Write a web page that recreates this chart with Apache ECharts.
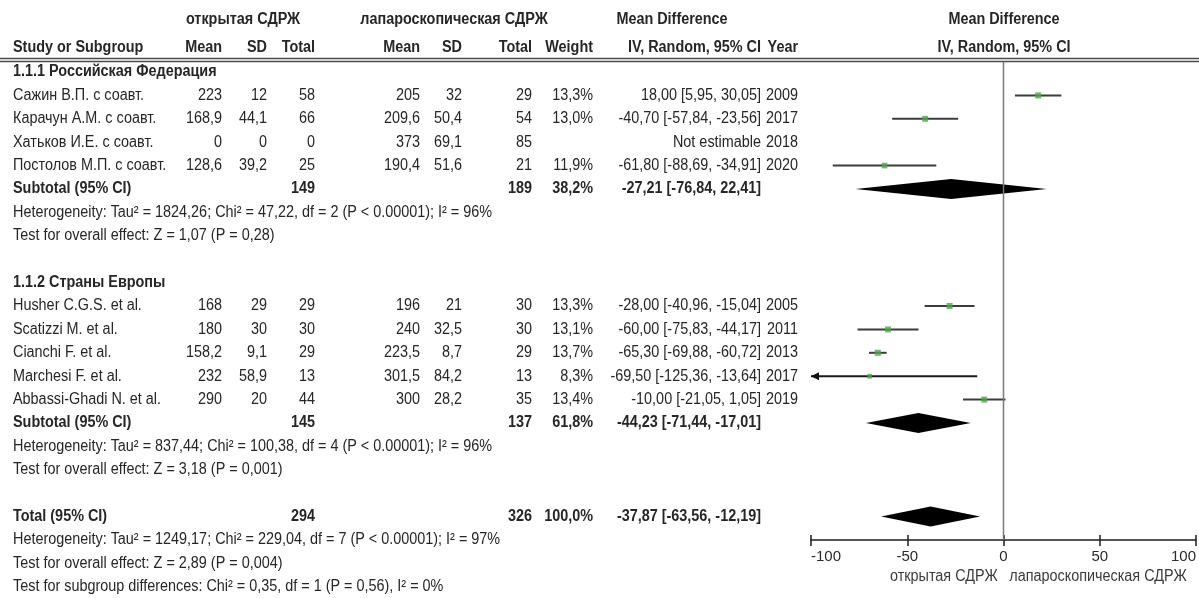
<!DOCTYPE html>
<html>
<head>
<meta charset="utf-8">
<script src="https://cdn.jsdelivr.net/npm/echarts@6/dist/echarts.min.js"></script>
<style>
  html, body { margin: 0; padding: 0; background: #fff; }
  #chart { width: 1199px; height: 598px; }
</style>
</head>
<body>
<div id="chart"></div>
<script>
// ---- Study data ----
const studyNames = ['Сажин В.П. с соавт.', 'Карачун А.М. с соавт.', 'Хатьков И.Е. с соавт.', 'Постолов М.П. с соавт.',
  'Husher C.G.S. et al.', 'Scatizzi M. et al.', 'Cianchi F. et al.', 'Marchesi F. et al.', 'Abbassi-Ghadi N. et al.'];
const studyGroup = [0, 0, 0, 0, 1, 1, 1, 1, 1];
const openMean = [223, 168.9, 0, 128.6, 168, 180, 158.2, 232, 290];
const openSD = [12, 44.1, 0, 39.2, 29, 30, 9.1, 58.9, 20];
const openTotal = [58, 66, 0, 25, 29, 30, 29, 13, 44];
const lapMean = [205, 209.6, 373, 190.4, 196, 240, 223.5, 301.5, 300];
const lapSD = [32, 50.4, 69.1, 51.6, 21, 32.5, 8.7, 84.2, 28.2];
const lapTotal = [29, 54, 85, 21, 30, 30, 29, 13, 35];
const weights = [13.3, 13.0, null, 11.9, 13.3, 13.1, 13.7, 8.3, 13.4];
const meanDiff = [18.00, -40.70, null, -61.80, -28.00, -60.00, -65.30, -69.50, -10.00];
const ciLow = [5.95, -57.84, null, -88.69, -40.96, -75.83, -69.88, -125.36, -21.05];
const ciHigh = [30.05, -23.56, null, -34.91, -15.04, -44.17, -60.72, -13.64, 1.05];
const years = [2009, 2017, 2018, 2020, 2005, 2011, 2013, 2017, 2019];

// ---- Subgroups ----
const groupNames = ['1.1.1 Российская Федерация', '1.1.2 Страны Европы'];
const groupOpenTotal = [149, 145];
const groupLapTotal = [189, 137];
const groupWeight = [38.2, 61.8];
const groupMD = [-27.21, -44.23];
const groupLow = [-76.84, -71.44];
const groupHigh = [22.41, -17.01];
const groupHeterogeneity = [
  'Heterogeneity: Tau² = 1824,26; Chi² = 47,22, df = 2 (P < 0.00001); I² = 96%',
  'Heterogeneity: Tau² = 837,44; Chi² = 100,38, df = 4 (P < 0.00001); I² = 96%'
];
const groupOverall = [
  'Test for overall effect: Z = 1,07 (P = 0,28)',
  'Test for overall effect: Z = 3,18 (P = 0,001)'
];

// ---- Overall ----
const totalOpen = 294;
const totalLap = 326;
const totalWeight = 100.0;
const totalMD = -37.87;
const totalLow = -63.56;
const totalHigh = -12.19;
const totalNotes = [
  'Heterogeneity: Tau² = 1249,17; Chi² = 229,04, df = 7 (P < 0.00001); I² = 97%',
  'Test for overall effect: Z = 2,89 (P = 0,004)',
  'Test for subgroup differences: Chi² = 0,35, df = 1 (P = 0,56), I² = 0%'
];

// ---- Axis ----
const axisMin = -100;
const axisMax = 100;
const axisStep = 50;
const favoursLeft = 'открытая СДРЖ';
const favoursRight = 'лапароскопическая СДРЖ';

// ---- Layout ----
const W = 1199, H = 598;
const ROW0 = 72, PITCH = 23.4;         // pixel y of row 0 and row pitch
const AXIS_Y = 540;                      // pixel y of the x axis line
const rowOf = y => (y - ROW0) / PITCH;
const FONT = "'Liberation Sans',Arial,sans-serif";
const FS = 16;
const SX = 0.9;                          // horizontal squeeze for a narrow typeface look
const TXT = '#262626';
const COL = { study: 13, oMean: 222, oSD: 267, oTot: 315, lMean: 420, lSD: 462, lTot: 532, weight: 593, ci: 761, year: 798 };
const PLOT_LEFT = 811, PLOT_RIGHT = 1197;

const num = v => String(v).replace('.', ',');
const f1 = v => v.toFixed(1).replace('.', ',');
const f2 = v => v.toFixed(2).replace('.', ',');
const ciText = (m, l, h) => `${f2(m)} [${f2(l)}, ${f2(h)}]`;

// ---- Build table cells and plot rows ----
const cells = [];
const cell = (x, row, text, align, bold) => cells.push({ x, row, text, align: align || 'right', bold: !!bold });

const hdr1 = rowOf(20), hdr2 = rowOf(48);
cell(243, hdr1, 'открытая СДРЖ', 'center', true);
cell(454, hdr1, 'лапароскопическая СДРЖ', 'center', true);
cell(672, hdr1, 'Mean Difference', 'center', true);
cell(1004, hdr1, 'Mean Difference', 'center', true);
cell(COL.study, hdr2, 'Study or Subgroup', 'left', true);
cell(COL.oMean, hdr2, 'Mean', 'right', true);
cell(COL.oSD, hdr2, 'SD', 'right', true);
cell(COL.oTot, hdr2, 'Total', 'right', true);
cell(COL.lMean, hdr2, 'Mean', 'right', true);
cell(COL.lSD, hdr2, 'SD', 'right', true);
cell(COL.lTot, hdr2, 'Total', 'right', true);
cell(COL.weight, hdr2, 'Weight', 'right', true);
cell(COL.ci, hdr2, 'IV, Random, 95% CI', 'right', true);
cell(COL.year, hdr2, 'Year', 'right', true);
cell(1004, hdr2, 'IV, Random, 95% CI', 'center', true);

const studyPoints = [];   // [md, row, weight]
const studyLines = [];    // [lo, hi, row]
const diamonds = [];      // [lo, md, hi, row]

let r = 0;
groupNames.forEach((g, gi) => {
  cell(COL.study, r, g, 'left', true);
  r++;
  studyNames.forEach((name, i) => {
    if (studyGroup[i] !== gi) return;
    cell(COL.study, r, name, 'left');
    cell(COL.oMean, r, num(openMean[i]));
    cell(COL.oSD, r, num(openSD[i]));
    cell(COL.oTot, r, num(openTotal[i]));
    cell(COL.lMean, r, num(lapMean[i]));
    cell(COL.lSD, r, num(lapSD[i]));
    cell(COL.lTot, r, num(lapTotal[i]));
    if (weights[i] !== null) cell(COL.weight, r, f1(weights[i]) + '%');
    cell(COL.ci, r, meanDiff[i] === null ? 'Not estimable' : ciText(meanDiff[i], ciLow[i], ciHigh[i]));
    cell(COL.year, r, String(years[i]));
    if (meanDiff[i] !== null) {
      studyPoints.push([meanDiff[i], r, weights[i]]);
      studyLines.push([ciLow[i], ciHigh[i], r]);
    }
    r++;
  });
  cell(COL.study, r, 'Subtotal (95% CI)', 'left', true);
  cell(COL.oTot, r, String(groupOpenTotal[gi]), 'right', true);
  cell(COL.lTot, r, String(groupLapTotal[gi]), 'right', true);
  cell(COL.weight, r, f1(groupWeight[gi]) + '%', 'right', true);
  cell(COL.ci, r, ciText(groupMD[gi], groupLow[gi], groupHigh[gi]), 'right', true);
  diamonds.push([groupLow[gi], groupMD[gi], groupHigh[gi], r]);
  r++;
  cell(COL.study, r++, groupHeterogeneity[gi], 'left');
  cell(COL.study, r++, groupOverall[gi], 'left');
  r++; // blank line
});
cell(COL.study, r, 'Total (95% CI)', 'left', true);
cell(COL.oTot, r, String(totalOpen), 'right', true);
cell(COL.lTot, r, String(totalLap), 'right', true);
cell(COL.weight, r, f1(totalWeight) + '%', 'right', true);
cell(COL.ci, r, ciText(totalMD, totalLow, totalHigh), 'right', true);
diamonds.push([totalLow, totalMD, totalHigh, r]);
r++;
totalNotes.forEach(t => cell(COL.study, r++, t, 'left'));

const headLine1 = rowOf(58.5), headLine2 = rowOf(61.5);
const axisRow = rowOf(AXIS_Y);
const captionRow = rowOf(577);

const chart = echarts.init(document.getElementById('chart'), null, { renderer: 'canvas' });

// narrow text element anchored at (x, y)
const textEl = (x, y, text, align, bold, color) => ({
  type: 'text',
  x, y, scaleX: SX,
  style: {
    x: 0, y: 0, text,
    font: `${bold ? 'bold ' : ''}${FS}px ${FONT}`,
    fill: color || TXT,
    align, textAlign: align,
    verticalAlign: 'middle', textVerticalAlign: 'middle'
  }
});

const axisBase = {
  gridIndex: 0, type: 'value', min: axisMin, max: axisMax, interval: axisStep, position: 'bottom',
  splitLine: { show: false }
};

chart.setOption({
  animation: false,
  backgroundColor: '#fff',
  grid: [
    { left: PLOT_LEFT, width: PLOT_RIGHT - PLOT_LEFT, top: 0, height: AXIS_Y },
    { left: 0, width: W, top: 0, height: H }
  ],
  xAxis: [
    Object.assign({}, axisBase, {
      axisLine: { onZero: false, lineStyle: { color: '#1e1e1e', width: 1.5 } },
      axisTick: { length: 6, lineStyle: { color: '#1e1e1e', width: 1.5 } },
      axisLabel: {
        margin: 9, color: '#2a2a2a', fontSize: 15, fontFamily: FONT,
        alignMinLabel: 'left', alignMaxLabel: 'right'
      }
    }),
    Object.assign({}, axisBase, {
      axisLine: { show: false, onZero: false },
      axisTick: { inside: true, length: 5, lineStyle: { color: '#1e1e1e', width: 1.5 } },
      axisLabel: { show: false }
    }),
    { gridIndex: 1, type: 'value', min: 0, max: W, show: false }
  ],
  yAxis: [
    { gridIndex: 0, type: 'value', inverse: true, min: rowOf(0), max: axisRow, show: false, axisLine: { onZero: false } },
    { gridIndex: 1, type: 'value', inverse: true, min: rowOf(0), max: rowOf(H), show: false, axisLine: { onZero: false } }
  ],
  series: [
    // header rules
    {
      type: 'line', xAxisIndex: 2, yAxisIndex: 1, symbol: 'none', silent: true,
      lineStyle: { color: '#4a4a4a', width: 1.3 },
      data: [[0, headLine1], [W, headLine1]]
    },
    {
      type: 'line', xAxisIndex: 2, yAxisIndex: 1, symbol: 'none', silent: true,
      lineStyle: { color: '#4a4a4a', width: 1.3 },
      data: [[0, headLine2], [W, headLine2]]
    },
    // table text
    {
      type: 'custom', xAxisIndex: 2, yAxisIndex: 1, silent: true,
      data: cells.map(c => [c.x, c.row]),
      renderItem(params, api) {
        const c = cells[params.dataIndex];
        const p = api.coord([api.value(0), api.value(1)]);
        return textEl(p[0], p[1], c.text, c.align, c.bold);
      }
    },
    // line of no effect
    {
      type: 'line', xAxisIndex: 0, yAxisIndex: 0, symbol: 'none', silent: true,
      lineStyle: { color: '#7a7a7a', width: 1.5 },
      data: [[0, headLine2], [0, axisRow]]
    },
    // confidence intervals (clipped at axis limits with arrows)
    {
      type: 'custom', xAxisIndex: 0, yAxisIndex: 0, silent: true,
      data: studyLines,
      renderItem(params, api) {
        const lo = api.value(0), hi = api.value(1), row = api.value(2);
        const p1 = api.coord([Math.max(lo, axisMin), row]);
        const p2 = api.coord([Math.min(hi, axisMax), row]);
        const clipped = lo < axisMin || hi > axisMax;
        const stroke = clipped ? '#1a1a1a' : '#3c3c3c';
        const children = [{
          type: 'line',
          shape: { x1: p1[0], y1: p1[1], x2: p2[0], y2: p2[1] },
          style: { stroke, lineWidth: 2 }
        }];
        if (lo < axisMin) children.push({
          type: 'polygon',
          shape: { points: [[p1[0], p1[1]], [p1[0] + 8, p1[1] - 4], [p1[0] + 8, p1[1] + 4]] },
          style: { fill: '#111' }
        });
        if (hi > axisMax) children.push({
          type: 'polygon',
          shape: { points: [[p2[0], p2[1]], [p2[0] - 8, p2[1] - 4], [p2[0] - 8, p2[1] + 4]] },
          style: { fill: '#111' }
        });
        return { type: 'group', children };
      }
    },
    // point estimates
    {
      type: 'scatter', xAxisIndex: 0, yAxisIndex: 0, silent: true,
      symbol: 'rect',
      symbolSize: v => Math.sqrt(v[2]) * 1.65,
      itemStyle: { color: '#4ea84a' },
      data: studyPoints
    },
    // pooled diamonds
    {
      type: 'custom', xAxisIndex: 0, yAxisIndex: 0, silent: true,
      data: diamonds,
      renderItem(params, api) {
        const row = api.value(3);
        const l = api.coord([api.value(0), row]);
        const m = api.coord([api.value(1), row]);
        const h = api.coord([api.value(2), row]);
        const hh = 10;
        return {
          type: 'polygon',
          shape: { points: [[l[0], l[1]], [m[0], m[1] - hh], [h[0], h[1]], [m[0], m[1] + hh]] },
          style: { fill: '#000' }
        };
      }
    },
    // favours captions under the axis
    {
      type: 'custom', xAxisIndex: 0, yAxisIndex: 0, silent: true,
      data: [[-3, captionRow], [3, captionRow]],
      renderItem(params, api) {
        const p = api.coord([api.value(0), api.value(1)]);
        const left = params.dataIndex === 0;
        return textEl(p[0], p[1], left ? favoursLeft : favoursRight, left ? 'right' : 'left', false, '#3a3a3a');
      }
    }
  ]
});
</script>
</body>
</html>
